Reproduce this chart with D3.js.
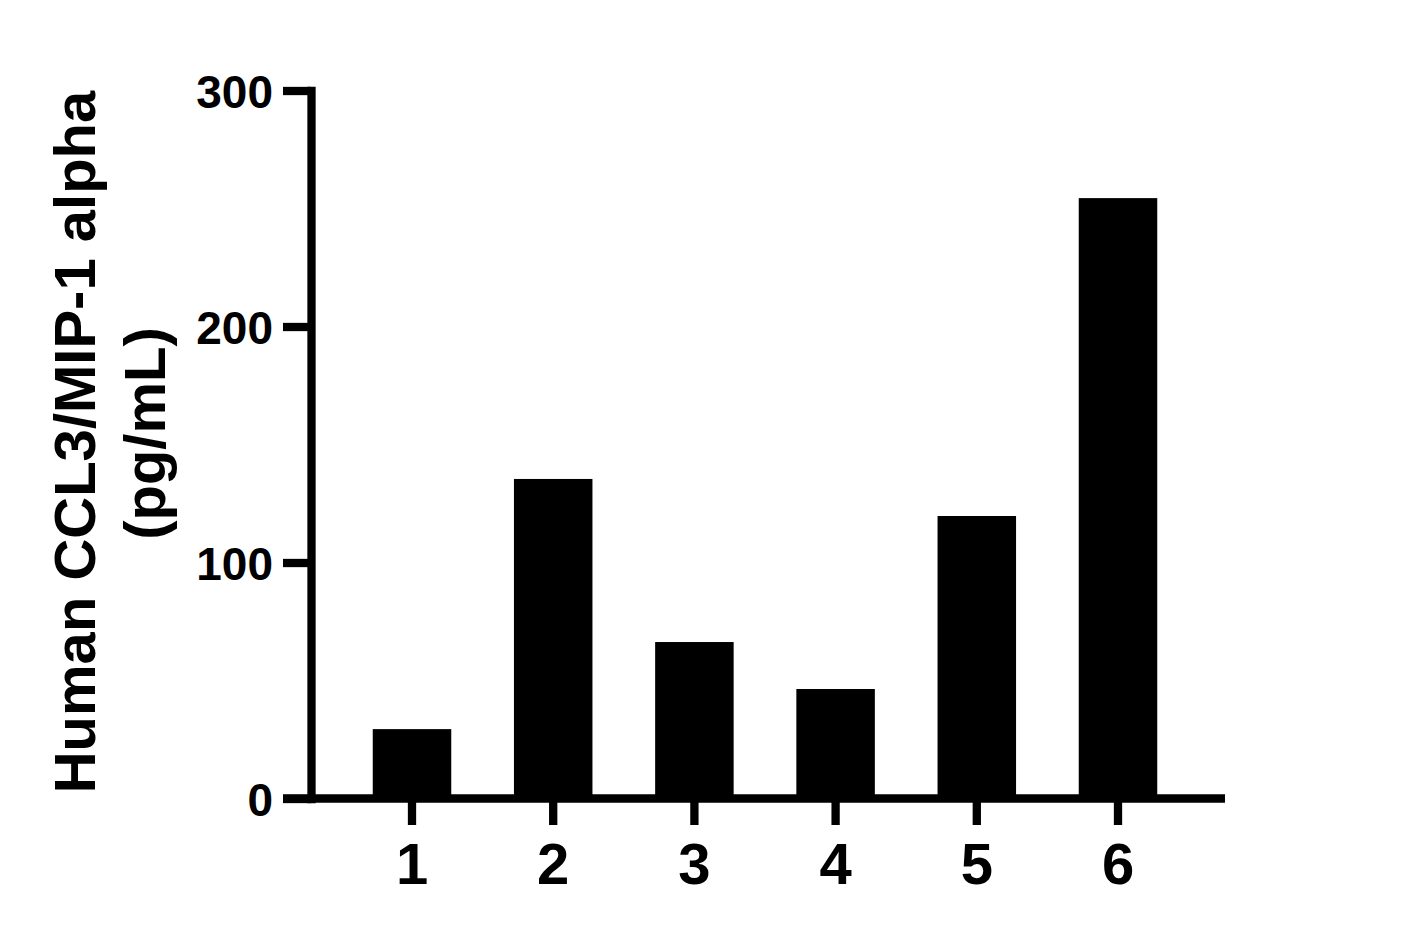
<!DOCTYPE html>
<html>
<head>
<meta charset="utf-8">
<script src="https://cdn.jsdelivr.net/npm/d3@7"></script>
<style>
  body { margin: 0; background: #fff; }
  svg { display: block; font-family: "Liberation Sans", Arial, sans-serif; font-weight: bold; }
</style>
</head>
<body>
<div id="chart"></div>
<script>
const categories = ["1", "2", "3", "4", "5", "6"];
const values = [29.4, 135.4, 66.3, 46.4, 119.7, 254.4];
const yTicks = [0, 100, 200, 300];
const yTitle = ["Human CCL3/MIP-1 alpha", "(pg/mL)"];

const width = 1401;
const height = 938;
const axisX = 311;        // y axis position
const plotRight = 1225;   // end of x axis line
const lineW = 8.3;
const yTickLen = 28;
const xTickLen = 26.5;

const svg = d3.select("#chart").append("svg")
    .attr("width", width)
    .attr("height", height);

const y = d3.scaleLinear().domain([0, 300]).range([798.5, 90.5]);

// outer padding = half of inner -> step = range / n
const x = d3.scaleBand()
    .domain(categories)
    .range([341.4, 1188.6])
    .paddingInner(0.444)
    .paddingOuter(0.222);

// bars
svg.append("g").selectAll("rect")
    .data(values)
    .join("rect")
    .attr("x", (d, i) => x(categories[i]))
    .attr("y", d => y(d))
    .attr("width", x.bandwidth())
    .attr("height", d => y(0) - y(d))
    .attr("fill", "#000");

// x axis line
svg.append("line")
    .attr("x1", axisX - yTickLen)
    .attr("x2", plotRight)
    .attr("y1", y(0))
    .attr("y2", y(0))
    .attr("stroke", "#000")
    .attr("stroke-width", lineW);

// y axis
const yAxis = svg.append("g")
    .attr("transform", "translate(" + axisX + ",0)")
    .call(d3.axisLeft(y).tickValues(yTicks).tickSize(yTickLen).tickSizeOuter(0).tickPadding(10));

yAxis.select(".domain")
    .attr("stroke", "#000")
    .attr("stroke-width", lineW)
    .attr("stroke-linecap", "square");
yAxis.selectAll(".tick line")
    .attr("stroke", "#000")
    .attr("stroke-width", lineW);
yAxis.selectAll(".tick text")
    .attr("fill", "#000")
    .attr("font-size", 46)
    .attr("font-family", "Liberation Sans, Arial, sans-serif")
    .attr("font-weight", "bold")
    .attr("dy", "0.36em");

// x axis ticks
const xAxis = svg.append("g")
    .attr("transform", "translate(0," + y(0) + ")")
    .call(d3.axisBottom(x).tickSize(xTickLen));

xAxis.select(".domain").remove();
xAxis.selectAll(".tick line")
    .attr("stroke", "#000")
    .attr("stroke-width", lineW);
xAxis.selectAll(".tick text")
    .attr("fill", "#000")
    .attr("font-size", 58)
    .attr("font-family", "Liberation Sans, Arial, sans-serif")
    .attr("font-weight", "bold")
    .attr("y", 85.5)
    .attr("dy", 0);

// y axis title, two lines
const titlePos = [[95, 442], [165, 433.5]];
svg.selectAll(".ytitle")
    .data(yTitle)
    .join("text")
    .attr("class", "ytitle")
    .attr("transform", (d, i) => "translate(" + titlePos[i][0] + "," + titlePos[i][1] + ") rotate(-90)")
    .attr("text-anchor", "middle")
    .attr("font-size", 58)
    .attr("fill", "#000")
    .text(d => d);
</script>
</body>
</html>
